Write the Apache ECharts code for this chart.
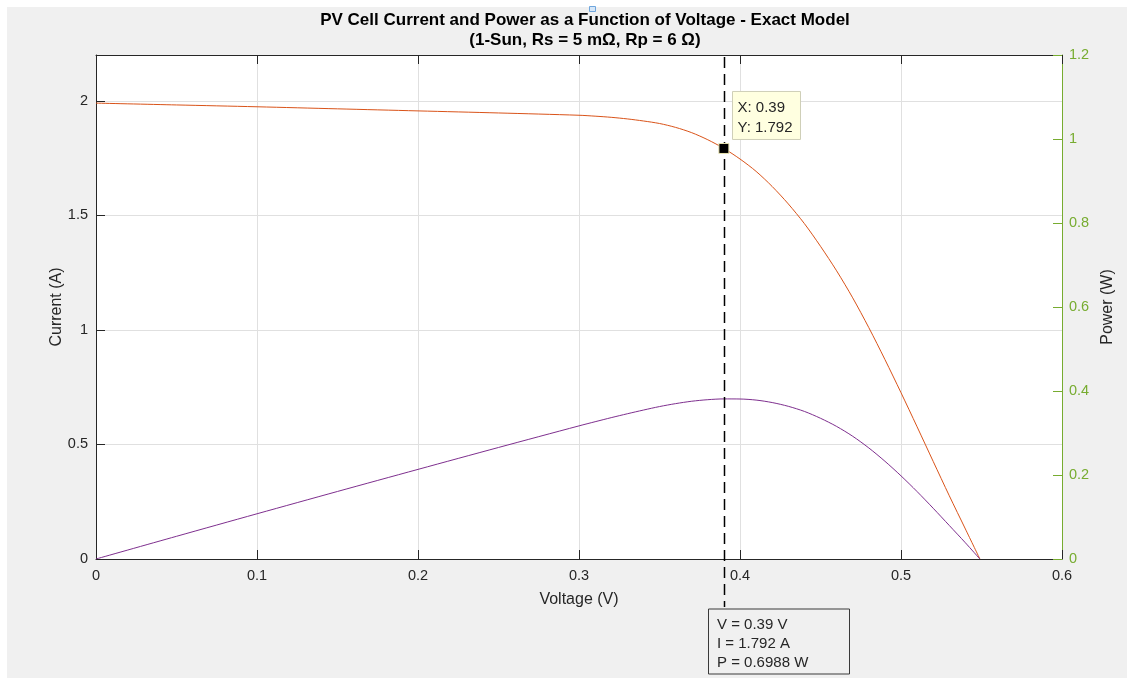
<!DOCTYPE html>
<html>
<head>
<meta charset="utf-8">
<script src="https://cdn.jsdelivr.net/npm/echarts@6/dist/echarts.min.js"></script>
<style>
html,body{margin:0;padding:0;background:#ffffff;}
#chart{width:1127px;height:678px;}
</style>
</head>
<body>
<div id="chart"></div>
<script>
// ---- data ----
const voltage = [0, 0.05, 0.1, 0.15, 0.2, 0.25, 0.3, 0.31, 0.32, 0.33, 0.34, 0.35, 0.36, 0.37, 0.38, 0.39,
                 0.40, 0.41, 0.42, 0.43, 0.44, 0.45, 0.46, 0.47, 0.48, 0.49, 0.50, 0.51, 0.52, 0.53, 0.54, 0.549];
const current = [1.990, 1.982, 1.974, 1.965, 1.956, 1.947, 1.937, 1.933, 1.928, 1.921, 1.912, 1.901, 1.884, 1.861, 1.830, 1.792,
                 1.746, 1.692, 1.626, 1.550, 1.464, 1.365, 1.258, 1.140, 1.010, 0.871, 0.726, 0.577, 0.426, 0.276, 0.131, 0];
const power   = [0, 0.0991, 0.1974, 0.2948, 0.3912, 0.4868, 0.5811, 0.5992, 0.6170, 0.6339, 0.6501, 0.6654, 0.6782, 0.6886, 0.6954, 0.6988,
                 0.6984, 0.6937, 0.6829, 0.6665, 0.6442, 0.6143, 0.5787, 0.5358, 0.4848, 0.4268, 0.363, 0.2943, 0.2215, 0.1463, 0.0707, 0];

const titleLines = ['PV Cell Current and Power as a Function of Voltage - Exact Model', '(1-Sun, Rs = 5 m\u03A9, Rp = 6 \u03A9)'];
const xName = 'Voltage (V)';
const yLeftName = 'Current (A)';
const yRightName = 'Power (W)';
const xRange = [0, 0.6, 0.1];
const yLeftRange = [0, 2.2, 0.5];
const yRightRange = [0, 1.2, 0.2];

const cursorV = 0.39, cursorI = 1.792, cursorP = 0.6988;
const tipLines = ['X: ' + cursorV, 'Y: ' + cursorI];
const infoLines = ['V = ' + cursorV + ' V', 'I = ' + cursorI + ' A', 'P = ' + cursorP + ' W'];

// ---- chart ----
const FONT = '"Liberation Sans", Arial, Helvetica, sans-serif';
const AX = '#262626';
const GREEN = '#77ac30';
const chart = echarts.init(document.getElementById('chart'), null, {renderer: 'canvas'});

const option = {
  animation: false,
  backgroundColor: '#f0f0f0',
  textStyle: {fontFamily: FONT},
  title: {
    text: titleLines.join('\n'),
    left: 580, top: 5, textAlign: 'center',
    textStyle: {fontFamily: FONT, fontSize: 17, fontWeight: 'bold', color: '#000', lineHeight: 20}
  },
  grid: {left: 96, right: 65, top: 55, bottom: 119, show: true, backgroundColor: '#ffffff', borderWidth: 0, containLabel: false},
  xAxis: [
    {
      type: 'value', position: 'bottom', min: xRange[0], max: xRange[1], interval: xRange[2],
      name: xName, nameLocation: 'middle', nameGap: 33, nameMoveOverlap: false,
      nameTextStyle: {fontFamily: FONT, fontSize: 16, color: AX},
      axisLine: {show: true, onZero: false, lineStyle: {color: AX, width: 1}},
      axisTick: {show: true, inside: true, length: 9, lineStyle: {color: AX}},
      axisLabel: {margin: 9, fontSize: 14.5, color: AX, fontFamily: FONT},
      splitLine: {show: true, lineStyle: {color: '#e0e0e0', width: 1}}
    },
    {
      type: 'value', position: 'top', min: xRange[0], max: xRange[1], interval: xRange[2],
      axisLine: {show: true, onZero: false, lineStyle: {color: AX, width: 1}},
      axisTick: {show: true, inside: true, length: 9, lineStyle: {color: AX}},
      axisLabel: {show: false},
      splitLine: {show: false}
    }
  ],
  yAxis: [
    {
      type: 'value', position: 'left', min: yLeftRange[0], max: yLeftRange[1], interval: yLeftRange[2],
      name: yLeftName, nameLocation: 'middle', nameGap: 31, nameMoveOverlap: false,
      nameTextStyle: {fontFamily: FONT, fontSize: 16, color: AX},
      axisLine: {show: true, onZero: false, lineStyle: {color: AX, width: 1}},
      axisTick: {show: true, inside: true, length: 9, lineStyle: {color: AX}},
      axisLabel: {margin: 8, fontSize: 14.5, color: AX, fontFamily: FONT, showMaxLabel: false},
      splitLine: {show: true, lineStyle: {color: '#e0e0e0', width: 1}}
    },
    {
      type: 'value', position: 'right', min: yRightRange[0], max: yRightRange[1], interval: yRightRange[2],
      name: yRightName, nameLocation: 'middle', nameGap: 38, nameRotate: 90,
      nameTextStyle: {fontFamily: FONT, fontSize: 16, color: AX},
      axisLine: {show: true, onZero: false, lineStyle: {color: GREEN, width: 1}},
      axisTick: {show: true, inside: true, length: 9, lineStyle: {color: GREEN}},
      axisLabel: {margin: 7, fontSize: 14.5, color: GREEN, fontFamily: FONT},
      splitLine: {show: false}
    }
  ],
  series: [
    {
      name: 'Current', type: 'line', xAxisIndex: 0, yAxisIndex: 0,
      data: voltage.map((v, i) => [v, current[i]]),
      showSymbol: false, smooth: 0.3,
      lineStyle: {color: '#d95319', width: 1},
      itemStyle: {color: '#d95319'},
      z: 3,
      markPoint: {
        symbol: 'rect', symbolSize: 10, silent: true, z: 20,
        itemStyle: {color: '#000', borderColor: '#e8e4b0', borderWidth: 1},
        label: {show: false},
        data: [{coord: [cursorV, cursorI]}]
      }
    },
    {
      name: 'Power', type: 'line', xAxisIndex: 0, yAxisIndex: 0,
      data: voltage.map((v, i) => [v, power[i]]),
      showSymbol: false, smooth: 0.3,
      lineStyle: {color: '#7e2f8e', width: 1},
      itemStyle: {color: '#7e2f8e'},
      z: 3
    }
  ]
};
chart.setOption(option);

// ---- annotations positioned through the axes ----
const p = chart.convertToPixel({xAxisIndex: 0, yAxisIndex: 0}, [cursorV, cursorI]);
const px = Math.round(p[0]) + 0.5;
const py = p[1];
const yTop = chart.convertToPixel({yAxisIndex: 0}, yLeftRange[1]);
const yBot = chart.convertToPixel({yAxisIndex: 0}, yLeftRange[0]);

chart.setOption({
  graphic: [
    {type: 'rect', z: 1, silent: true, shape: {x: 0, y: 0, width: 1127, height: 7}, style: {fill: '#ffffff'}},
    {type: 'rect', z: 1, silent: true, shape: {x: 0, y: 0, width: 7, height: 678}, style: {fill: '#ffffff'}},
    {type: 'rect', z: 1, silent: true, shape: {x: 589.5, y: 6.5, width: 6, height: 5}, style: {fill: '#d6e7f8', stroke: '#6fa6dd', lineWidth: 1}},
    {type: 'line', z: 10, silent: true,
     shape: {x1: px, y1: yTop + 2, x2: px, y2: yBot + 48},
     style: {stroke: '#000', lineWidth: 1.5, lineDash: [11, 6]}},
    {type: 'group', z: 30, x: px + 8, y: py - 57, silent: true, children: [
      {type: 'rect', z: 30, shape: {x: 0, y: 0, width: 68, height: 48}, style: {fill: '#ffffe0', stroke: '#cfcfb8', lineWidth: 1}},
      {type: 'text', z: 31, x: 5, y: 16.5, style: {text: tipLines[0], font: '15px ' + FONT, fill: '#262626', verticalAlign: 'middle'}},
      {type: 'text', z: 31, x: 5, y: 36, style: {text: tipLines[1], font: '15px ' + FONT, fill: '#262626', verticalAlign: 'middle'}}
    ]},
    {type: 'group', z: 30, x: px - 16, y: yBot + 50, silent: true, children: [
      {type: 'rect', z: 30, shape: {x: 0, y: 0, width: 141, height: 65}, style: {fill: '#f0f0f0', stroke: '#3a3a3a', lineWidth: 1}},
      {type: 'text', z: 31, x: 8.5, y: 16, style: {text: infoLines[0], font: '15px ' + FONT, fill: '#262626', verticalAlign: 'middle'}},
      {type: 'text', z: 31, x: 8.5, y: 35.3, style: {text: infoLines[1], font: '15px ' + FONT, fill: '#262626', verticalAlign: 'middle'}},
      {type: 'text', z: 31, x: 8.5, y: 54.3, style: {text: infoLines[2], font: '15px ' + FONT, fill: '#262626', verticalAlign: 'middle'}}
    ]}
  ]
});
</script>
</body>
</html>
